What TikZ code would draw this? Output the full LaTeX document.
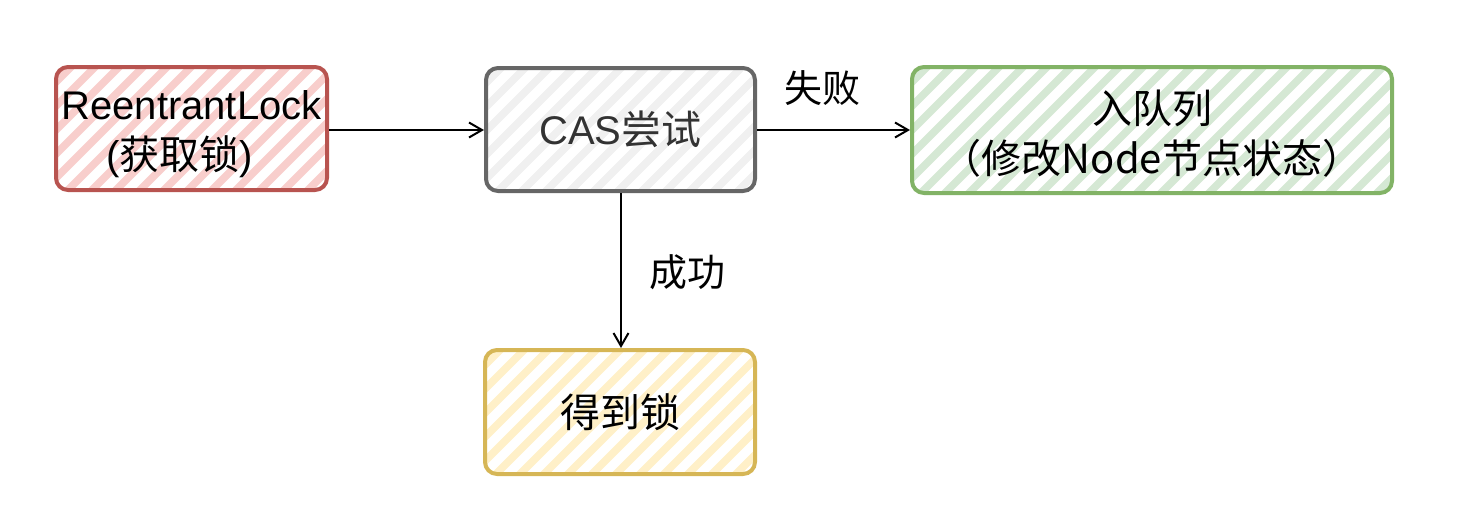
\documentclass[tikz,border=0pt]{standalone}
\usepackage{fontspec}
\setmainfont{Liberation Sans}
\newfontfamily\cjkf{Noto Sans CJK SC}
\usetikzlibrary{arrows.meta,calc}
\definecolor{redS}{HTML}{B85450}\definecolor{redF}{HTML}{F8CECC}
\definecolor{grayS}{HTML}{666666}\definecolor{grayF}{HTML}{F0F0F0}
\definecolor{greenS}{HTML}{82B366}\definecolor{greenF}{HTML}{D5E8D4}
\definecolor{yelS}{HTML}{D6B656}\definecolor{yelF}{HTML}{FFF0C8}
\definecolor{txtgray}{HTML}{333333}
\tikzset{
  hbox/.style 2 args={draw=#1, line width=2pt, rounded corners=6pt, inner sep=0pt,
    align=center, font=\fontsize{20}{25}\selectfont,
    path picture={
      \foreach \i in {-144,-120,...,528}
        \draw[line width=3.8pt,#2,rounded corners=0pt]
          ($(path picture bounding box.north west)+(\i,135)$) -- ++(145,-145);
    }},
  conn/.style={line width=1pt, -{Straight Barb[length=6.5pt,width=7.5pt]}},
  elab/.style={font=\cjkf\fontsize{19}{22}\selectfont, inner sep=0pt}
}
\begin{document}
\begin{tikzpicture}[x=0.5pt,y=-0.5pt]
\useasboundingbox (0,0) rectangle (1484,520);
\node[hbox={redS}{redF}, minimum width=135.5pt, minimum height=61.5pt] (lock) at (191.5,128.5)
  {\rule{0pt}{20.5pt}ReentrantLock\\{(\cjkf 获取锁})\hspace*{12pt}};
\node[hbox={grayS}{grayF}, minimum width=134.5pt, minimum height=61.5pt, text=txtgray] (cas) at (620.5,129.5)
  {CAS{\cjkf 尝试}};
\node[hbox={greenS}{greenF}, minimum width=240pt, minimum height=63pt] (queue) at (1152,130)
  {\cjkf\rule{0pt}{20pt}入队列\\\cjkf （修改Node节点状态）};
\node[hbox={yelS}{yelF}, minimum width=135pt, minimum height=62pt] (got) at (620,412)
  {\cjkf 得到锁};
\draw[conn] (lock.east |- 0,130) -- (cas.west |- 0,130);
\draw[conn] (cas.east |- 0,130) -- node[elab, pos=0.43, yshift=21pt] (fail) {失败} (queue.west |- 0,130);
\draw[conn] (cas.south -| 621,0) -- node[elab, pos=0.51, xshift=33pt] (ok) {成功} (got.north -| 621,0);
\end{tikzpicture}
\end{document}
